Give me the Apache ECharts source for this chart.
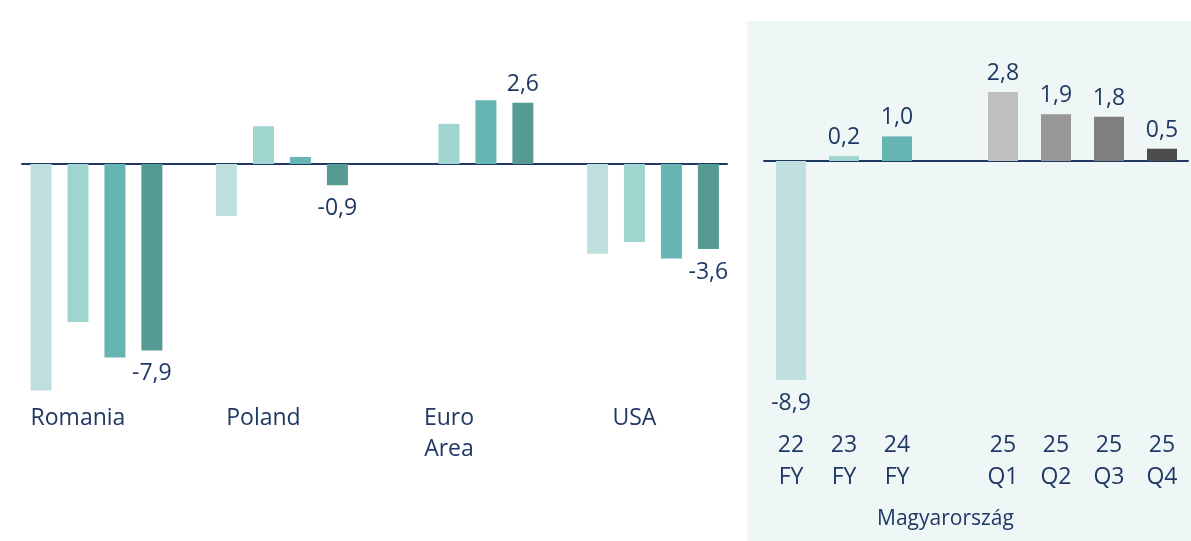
<!DOCTYPE html>
<html>
<head>
<meta charset="utf-8">
<script src="https://cdn.jsdelivr.net/npm/echarts@6/dist/echarts.min.js"></script>
<style>
  html, body { margin: 0; padding: 0; background: #fff; }
  #chart { width: 1191px; height: 541px; }
</style>
</head>
<body>
<div id="chart"></div>
<script>
// left panel: countries, four bars each (oldest -> newest)
var countries = ['Romania', 'Poland', 'Euro\nArea', 'USA'];
var period1 = [-9.6, -2.2, 0.0, -3.8];
var period2 = [-6.7, 1.6, 1.7, -3.3];
var period3 = [-8.2, 0.3, 2.7, -4.0];
var period4 = [-7.9, -0.9, 2.6, -3.6];

// right panel: Magyarország
var huCategories = ['22\nFY', '23\nFY', '24\nFY', '', '25\nQ1', '25\nQ2', '25\nQ3', '25\nQ4'];
var huValues = [-8.9, 0.2, 1.0, '-', 2.8, 1.9, 1.8, 0.5];

var tealColors = ['#bfe0df', '#9fd5cf', '#67b5b2', '#559a93'];
var huColors = ['#bfe0df', '#9fd5cf', '#67b5b2', '#ffffff', '#bfbfbf', '#979797', '#7f7f7f', '#4d4d4d'];
var navy = '#203864';
var font = "'Open Sans', 'Noto Sans', sans-serif";

function fmt(v) {
  return Number(v).toFixed(1).replace('.', ',');
}

// labels go above positive bars and below negative ones
function withLabelPos(values) {
  return values.map(function (v) {
    if (v === '-') return v;
    return {
      value: v,
      label: v < 0 ? { position: 'bottom', distance: 12 } : { position: 'top', distance: 7 }
    };
  });
}

var valueLabel = {
  show: true,
  color: navy,
  fontFamily: font,
  fontSize: 23,
  formatter: function (p) { return fmt(p.value); }
};

function hiddenY(gridIndex) {
  return {
    type: 'value', gridIndex: gridIndex, min: -10, max: 5,
    show: false, splitLine: { show: false }
  };
}

function baseline(gridIndex) {
  return {
    type: 'category', gridIndex: gridIndex, data: [''],
    axisLine: { show: true, onZero: true, lineStyle: { color: navy, width: 2 } },
    axisTick: { show: false }, axisLabel: { show: false }
  };
}

var leftSeries = [period1, period2, period3, period4].map(function (vals, i) {
  return {
    type: 'bar',
    xAxisIndex: 0, yAxisIndex: 0,
    data: i === 3 ? withLabelPos(vals) : vals,
    barWidth: 21,
    barGap: '76%',
    itemStyle: { color: tealColors[i] },
    label: i === 3 ? valueLabel : { show: false },
    z: 3
  };
});

var option = {
  animation: false,
  backgroundColor: '#ffffff',
  graphic: [{
    type: 'rect', left: 747, top: 21, z: -10,
    shape: { width: 444, height: 520 },
    style: { fill: '#eff7f6' }
  }],
  grid: [
    { left: 3.7, right: 445.3, top: 46, bottom: 141 },   // left bars
    { left: 22, right: 464, top: 46, bottom: 141 },      // left zero line
    { left: 764.5, right: 2.5, top: 38, bottom: 134 },   // right bars
    { left: 764, right: 3, top: 38, bottom: 134 }        // right zero line
  ],
  xAxis: [
    {
      type: 'category', gridIndex: 0, data: countries,
      axisLine: { show: false, onZero: false }, axisTick: { show: false },
      axisLabel: {
        color: navy, fontFamily: font, fontSize: 23, lineHeight: 31,
        margin: 3, interval: 0, padding: [0, 37, 0, 0]
      }
    },
    baseline(1),
    {
      type: 'category', gridIndex: 2, data: huCategories,
      axisLine: { show: false, onZero: false }, axisTick: { show: false },
      axisLabel: {
        color: navy, fontFamily: font, fontSize: 23, lineHeight: 32,
        margin: 22, interval: 0
      },
      name: 'Magyarország', nameLocation: 'middle', nameGap: 102,
      nameTextStyle: {
        color: navy, fontFamily: font, fontSize: 21, padding: [0, 62, 0, 0]
      }
    },
    baseline(3)
  ],
  yAxis: [hiddenY(0), hiddenY(1), hiddenY(2), hiddenY(3)],
  series: leftSeries.concat([{
    type: 'bar',
    xAxisIndex: 2, yAxisIndex: 2,
    data: withLabelPos(huValues),
    barWidth: 30,
    itemStyle: {
      color: function (p) { return huColors[p.dataIndex]; }
    },
    label: valueLabel,
    z: 3
  }])
};

var chart = echarts.init(document.getElementById('chart'));
chart.setOption(option);
window.onresize = function () { chart.resize(); };
</script>
</body>
</html>
